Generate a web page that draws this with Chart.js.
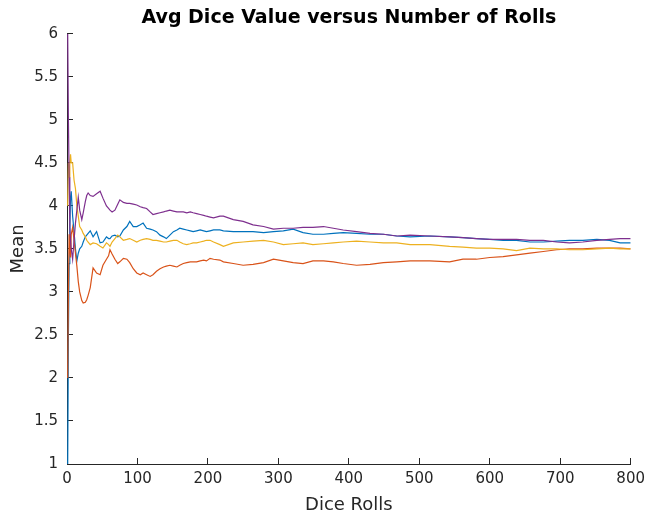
<!DOCTYPE html>
<html>
<head>
<meta charset="utf-8">
<title>Avg Dice Value versus Number of Rolls</title>
<script src="https://cdn.jsdelivr.net/npm/chart.js@4.4.1/dist/chart.umd.min.js"></script>
<style>
  html, body { margin: 0; padding: 0; background: #fff; }
  #wrap { width: 649px; height: 516px; }
</style>
</head>
<body>
<div id="wrap"><canvas id="diceChart" width="649" height="516"></canvas></div>
<script>
// Valores (media acumulada tras n tiradas)
const rolls = [
  1, 2, 3, 4, 5, 6, 8, 10, 12, 14,
  16, 18, 21, 23, 26, 28, 30, 33, 37, 42,
  47, 51, 56, 59, 61, 64, 68, 72, 75, 80,
  85, 89, 94, 99, 104, 108, 113, 118, 122, 127,
  132, 137, 141, 146, 151, 156, 160, 165, 170, 175,
  179, 184, 189, 194, 198, 203, 208, 217, 222, 236,
  250, 264, 279, 293, 307, 321, 335, 349, 364, 378,
  392, 411, 430, 449, 468, 487, 515, 543, 562, 581,
  600, 619, 638, 657, 676, 695, 713, 732, 752, 770,
  785, 800
];

const blueMeans = [
  1.0, 2.5, 3.33, 3.75, 4.1, 4.17, 3.88, 3.7, 3.5, 3.36,
  3.45, 3.5, 3.53, 3.58, 3.64, 3.66, 3.68, 3.71, 3.64, 3.70,
  3.57, 3.58, 3.64, 3.62, 3.62, 3.65, 3.66, 3.64, 3.65, 3.72,
  3.76, 3.82, 3.76, 3.76, 3.78, 3.80, 3.74, 3.73, 3.72, 3.70,
  3.66, 3.64, 3.62, 3.66, 3.70, 3.72, 3.74, 3.73, 3.72, 3.71,
  3.70, 3.71, 3.72, 3.71, 3.70, 3.71, 3.72, 3.72, 3.71, 3.70,
  3.70, 3.70, 3.69, 3.70, 3.71, 3.73, 3.69, 3.67, 3.67, 3.68,
  3.69, 3.68, 3.67, 3.67, 3.65, 3.64, 3.65, 3.64, 3.63, 3.62,
  3.61, 3.60, 3.60, 3.58, 3.58, 3.59, 3.60, 3.60, 3.61, 3.60,
  3.57, 3.57
];

const orangeMeans = [
  2.0, 3.0, 3.67, 3.5, 3.4, 3.67, 3.75, 3.6, 3.45, 3.3,
  3.12, 3.0, 2.9, 2.87, 2.88, 2.91, 2.96, 3.05, 3.28, 3.22,
  3.20, 3.31, 3.38, 3.42, 3.49, 3.44, 3.38, 3.33, 3.35, 3.39,
  3.38, 3.34, 3.27, 3.22, 3.20, 3.22, 3.20, 3.18, 3.20, 3.24,
  3.27, 3.29, 3.30, 3.31, 3.30, 3.29, 3.31, 3.33, 3.34, 3.35,
  3.35, 3.35, 3.36, 3.37, 3.36, 3.39, 3.38, 3.37, 3.35, 3.33,
  3.31, 3.32, 3.34, 3.38, 3.36, 3.34, 3.33, 3.36, 3.36, 3.35,
  3.33, 3.31, 3.32, 3.34, 3.35, 3.36, 3.36, 3.35, 3.38, 3.38,
  3.40, 3.41, 3.43, 3.45, 3.47, 3.49, 3.50, 3.50, 3.51, 3.51,
  3.51, 3.50
];

const yellowMeans = [
  4.0, 4.5, 4.33, 4.5, 4.6, 4.5, 4.5, 4.3, 4.2, 4.0,
  3.88, 3.76, 3.72, 3.68, 3.64, 3.60, 3.58, 3.55, 3.57, 3.56,
  3.53, 3.51, 3.57, 3.55, 3.53, 3.58, 3.62, 3.66, 3.64, 3.60,
  3.61, 3.62, 3.60, 3.58, 3.60, 3.61, 3.62, 3.61, 3.60, 3.60,
  3.59, 3.58, 3.58, 3.59, 3.60, 3.60, 3.58, 3.56, 3.55, 3.56,
  3.57, 3.57, 3.58, 3.59, 3.60, 3.60, 3.58, 3.55, 3.53, 3.57,
  3.58, 3.59, 3.60, 3.58, 3.55, 3.56, 3.57, 3.55, 3.56, 3.57,
  3.58, 3.59, 3.58, 3.57, 3.57, 3.55, 3.55, 3.53, 3.52, 3.51,
  3.51, 3.50, 3.48, 3.51, 3.50, 3.50, 3.49, 3.49, 3.50, 3.51,
  3.50, 3.50
];

const purpleMeans = [
  6.0, 5.0, 4.33, 3.75, 3.6, 3.5, 3.38, 3.6, 3.8, 3.95,
  4.1, 3.95, 3.84, 3.92, 4.05, 4.12, 4.15, 4.12, 4.11, 4.14,
  4.17, 4.09, 4.0, 3.97, 3.95, 3.93, 3.95, 4.02, 4.07, 4.04,
  4.03, 4.03, 4.02, 4.01, 3.99, 3.98, 3.97, 3.93, 3.90, 3.91,
  3.92, 3.93, 3.94, 3.95, 3.94, 3.93, 3.93, 3.93, 3.92, 3.93,
  3.92, 3.91, 3.90, 3.89, 3.88, 3.87, 3.86, 3.88, 3.88, 3.84,
  3.82, 3.78, 3.76, 3.73, 3.74, 3.74, 3.75, 3.75, 3.76, 3.74,
  3.72, 3.70, 3.68, 3.67, 3.65, 3.66, 3.65, 3.64, 3.63, 3.62,
  3.61, 3.61, 3.61, 3.60, 3.60, 3.58, 3.57, 3.58, 3.60, 3.61,
  3.62, 3.62
];

const xTicks = [0, 100, 200, 300, 400, 500, 600, 700, 800];
const yTicks = [1, 1.5, 2, 2.5, 3, 3.5, 4, 4.5, 5, 5.5, 6];

const axisColor = '#262626';
const fontFamily = '"DejaVu Sans", sans-serif';

function toPoints(values) {
    return rolls.map((r, i) => ({ x: r, y: values[i] }));
}

const series = [
    { label: 'Tirada 1', values: blueMeans, color: '#0072BD', order: 3 },
    { label: 'Tirada 2', values: orangeMeans, color: '#D95319', order: 2 },
    { label: 'Tirada 3', values: yellowMeans, color: '#EDB120', order: 1 },
    { label: 'Tirada 4', values: purpleMeans, color: '#7E2F8E', order: 0 }
];

// Marcas de eje hacia dentro (tickLength negativo), sin rejilla
const innerGrid = {
    display: true,
    drawOnChartArea: false,
    drawTicks: true,
    tickLength: -6,
    color: axisColor,
    lineWidth: 1
};

new Chart(document.getElementById('diceChart'), {
    type: 'line',
    data: {
        datasets: series.map(s => ({
            label: s.label,
            data: toPoints(s.values),
            borderColor: s.color,
            backgroundColor: s.color,
            borderWidth: 1.2,
            pointRadius: 0,
            tension: 0,
            order: s.order
        }))
    },
    options: {
        responsive: false,
        animation: false,
        layout: { padding: { left: 0, right: 18, top: 0, bottom: 0 } },
        plugins: {
            legend: { display: false },
            tooltip: { enabled: false },
            title: {
                display: true,
                text: 'Avg Dice Value versus Number of Rolls',
                fullSize: false,
                color: '#000',
                font: { family: fontFamily, size: 19, weight: 'bold' },
                padding: { top: 7, bottom: 4 }
            }
        },
        scales: {
            x: {
                type: 'linear',
                min: 0,
                max: 800,
                afterBuildTicks: scale => { scale.ticks = xTicks.map(v => ({ value: v })); },
                afterFit: scale => { scale.height = 52; },
                grid: innerGrid,
                border: { display: true, color: axisColor, width: 1 },
                ticks: {
                    color: axisColor,
                    padding: 4,
                    maxRotation: 0,
                    font: { family: fontFamily, size: 15, lineHeight: '34px' }
                },
                title: {
                    display: true,
                    text: 'Dice Rolls',
                    color: axisColor,
                    font: { family: fontFamily, size: 18 },
                    padding: { top: 0, bottom: 0 }
                }
            },
            y: {
                type: 'linear',
                min: 1,
                max: 6,
                afterBuildTicks: scale => { scale.ticks = yTicks.map(v => ({ value: v })); },
                afterFit: scale => { scale.width = 67; },
                grid: innerGrid,
                border: { display: true, color: axisColor, width: 1 },
                ticks: {
                    color: axisColor,
                    padding: 15,
                    font: { family: fontFamily, size: 15 },
                    callback: v => String(v)
                },
                title: {
                    display: true,
                    text: 'Mean',
                    color: axisColor,
                    font: { family: fontFamily, size: 18 },
                    padding: { top: 8, bottom: 0 }
                }
            }
        }
    }
});
</script>
</body>
</html>
